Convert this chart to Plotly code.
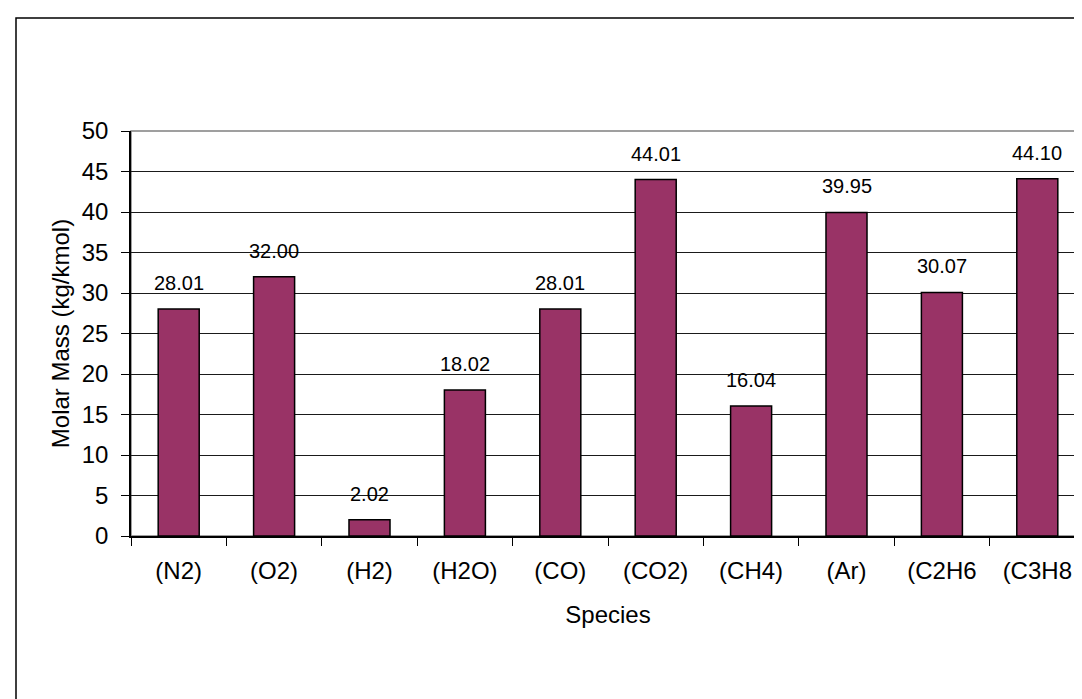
import plotly.graph_objects as go

species = ["(N2)", "(O2)", "(H2)", "(H2O)", "(CO)", "(CO2)", "(CH4)", "(Ar)", "(C2H6", "(C3H8"]
molar_mass = [28.01, 32.00, 2.02, 18.02, 28.01, 44.01, 16.04, 39.95, 30.07, 44.10]
y_ticks = [0, 5, 10, 15, 20, 25, 30, 35, 40, 45, 50]

FONT = "Liberation Sans, Arial, sans-serif"

fig = go.Figure()
fig.add_trace(go.Bar(
    x=species, y=molar_mass,
    marker=dict(color="#993366", line=dict(color="#000000", width=1.5)),
    hoverinfo="x+y",
))

for s, v in zip(species, molar_mass):
    fig.add_annotation(x=s, y=v, text=f"{v:.2f}", showarrow=False,
                       yanchor="bottom", yshift=13,
                       font=dict(family=FONT, size=20, color="#000000"))

# plot-area border (gray)
fig.add_shape(type="rect", xref="paper", yref="paper", x0=0, x1=1, y0=0, y1=1,
              line=dict(color="#808080", width=1.5), layer="below")
# outer chart border (right and bottom edges fall outside the picture)
fig.add_shape(type="rect", xref="paper", yref="paper",
              x0=-115/954, x1=1.2, y0=-0.8, y1=1 + 113/405,
              line=dict(color="#000000", width=1.5), layer="below")

fig.update_layout(
    width=1082, height=699,
    margin=dict(l=123, r=5, t=123, b=171),
    paper_bgcolor="white", plot_bgcolor="white",
    bargap=0.57, showlegend=False,
    font=dict(family=FONT, color="#000000"),
)
fig.update_xaxes(
    type="category", tickson="boundaries", ticks="outside", ticklen=8,
    tickcolor="#000000", showline=True, linecolor="#000000", linewidth=1.5,
    showgrid=False, tickfont=dict(size=24, family=FONT), ticklabelstandoff=12,
    title=dict(text="Species", font=dict(size=24, family=FONT), standoff=24),
)
fig.update_yaxes(
    range=[0, 50], tickvals=y_ticks, ticks="outside", ticklen=8,
    tickcolor="#000000", showline=True, linecolor="#000000", linewidth=1.5,
    showgrid=True, gridcolor="#1a1a1a", gridwidth=1, zeroline=False,
    tickfont=dict(size=24, family=FONT), ticklabelstandoff=8,
    title=dict(text="Molar Mass (kg/kmol)", font=dict(size=24, family=FONT), standoff=5),
)

fig.write_html("out.html")
